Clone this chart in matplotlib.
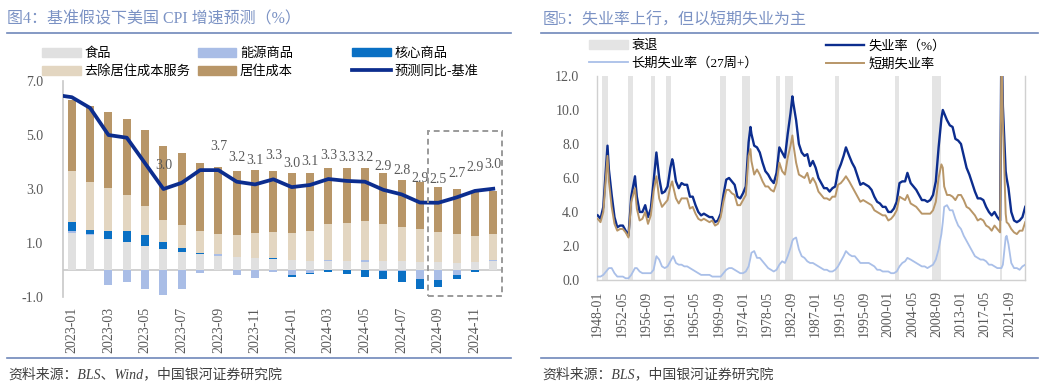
import numpy as np
import matplotlib
matplotlib.use("Agg")
import matplotlib.pyplot as plt
from matplotlib.patches import Patch, Rectangle
from matplotlib.lines import Line2D

plt.rcParams['font.family'] = ['Liberation Serif', 'Noto Sans CJK SC', 'DejaVu Sans']
plt.rcParams['axes.unicode_minus'] = False

# ---------------- left chart data (CPI contributions, %) ----------------
cpi_months = ["2023-01", "2023-02", "2023-03", "2023-04", "2023-05", "2023-06",
              "2023-07", "2023-08", "2023-09", "2023-10", "2023-11", "2023-12",
              "2024-01", "2024-02", "2024-03", "2024-04", "2024-05", "2024-06",
              "2024-07", "2024-08", "2024-09", "2024-10", "2024-11", "2024-12"]
food = [1.38, 1.28, 1.15, 1.02, 0.90, 0.78, 0.67, 0.59, 0.52, 0.47, 0.43, 0.40,
        0.37, 0.35, 0.32, 0.32, 0.30, 0.32, 0.32, 0.30, 0.30, 0.27, 0.30, 0.32]
energy = [0.07, 0.04, -0.56, -0.43, -0.72, -0.93, -0.72, -0.12, 0.07, -0.20, -0.31, -0.06,
          -0.20, -0.12, 0.04, 0.03, 0.06, -0.04, -0.02, -0.35, -0.37, -0.19, 0.00, 0.05]
core_goods = [0.32, 0.15, 0.30, 0.42, 0.40, 0.26, 0.16, 0.04, 0.00, 0.02, 0.02, 0.03,
              -0.05, -0.04, -0.06, -0.16, -0.25, -0.31, -0.41, -0.37, -0.25, -0.16, -0.06, 0.00]
services_ex_shelter = [1.90, 1.80, 1.57, 1.33, 1.06, 0.80, 0.82, 0.81, 0.73, 0.79, 0.93, 0.98,
                       1.01, 1.11, 1.34, 1.40, 1.45, 1.38, 1.28, 1.21, 1.12, 1.05, 0.97, 0.96]
shelter = [2.62, 2.80, 2.83, 2.81, 2.83, 2.75, 2.67, 2.52, 2.51, 2.37, 2.32, 2.26,
           2.22, 2.12, 2.09, 2.04, 1.96, 1.88, 1.73, 1.76, 1.67, 1.67, 1.65, 1.60]
# headline yoy, first value is 2022-12
cpi_yoy = [6.5, 6.4, 6.0, 5.0, 4.9, 3.95, 3.0, 3.23, 3.7, 3.7, 3.27, 3.17, 3.36,
           3.07, 3.15, 3.37, 3.30, 3.27, 2.97, 2.80, 2.50, 2.49, 2.69, 2.93, 3.01]
cpi_labels = [None, None, None, None, None, "3.0", None, None, "3.7", "3.2", "3.1", "3.3",
              "3.0", "3.1", "3.3", "3.3", "3.2", "2.9", "2.8", "2.9", "2.5", "2.7", "2.9", "3.0"]

# ---------------- right chart data (unemployment, %) ----------------
ur_dates = ["1948-01", "1948-07", "1949-01", "1949-07", "1949-10",
            "1950-01", "1950-07", "1951-01", "1951-07", "1952-01", "1952-07", "1953-01", "1953-07",
            "1954-01", "1954-07", "1954-09", "1955-01", "1955-07", "1956-01", "1956-07", "1957-01",
            "1957-07", "1958-01", "1958-07", "1959-01", "1959-07",
            "1960-01", "1960-07", "1961-01", "1961-05", "1961-07", "1962-01", "1962-07", "1963-01",
            "1963-07", "1964-01", "1964-07", "1965-01", "1965-07", "1966-01", "1966-07", "1967-01",
            "1967-07", "1968-01", "1968-07", "1969-01", "1969-07",
            "1970-01", "1970-07", "1971-01", "1971-07", "1972-01", "1972-07", "1973-01", "1973-07",
            "1974-01", "1974-07", "1975-01", "1975-05", "1975-07", "1976-01", "1976-07", "1977-01",
            "1977-07", "1978-01", "1978-07", "1979-01", "1979-07",
            "1980-01", "1980-07", "1981-01", "1981-07", "1982-01", "1982-07", "1982-11", "1983-01",
            "1983-07", "1984-01", "1984-07", "1985-01", "1985-07", "1986-01", "1986-07", "1987-01",
            "1987-07", "1988-01", "1988-07", "1989-01", "1989-07",
            "1990-01", "1990-07", "1991-01", "1991-07", "1992-01", "1992-06", "1993-01", "1993-07",
            "1994-01", "1994-07", "1995-01", "1995-07", "1996-01", "1996-07", "1997-01", "1997-07",
            "1998-01", "1998-07", "1999-01", "1999-07",
            "2000-01", "2000-07", "2001-01", "2001-07", "2002-01", "2002-07", "2003-01", "2003-06",
            "2004-01", "2004-07", "2005-01", "2005-07", "2006-01", "2006-07", "2007-01", "2007-07",
            "2008-01", "2008-07", "2009-01", "2009-07", "2009-10",
            "2010-01", "2010-07", "2011-01", "2011-07", "2012-01", "2012-07", "2013-01", "2013-07",
            "2014-01", "2014-07", "2015-01", "2015-07", "2016-01", "2016-07", "2017-01", "2017-07",
            "2018-01", "2018-07", "2019-01", "2019-07",
            "2020-01", "2020-04", "2020-07", "2021-01", "2021-03", "2021-07", "2022-01", "2022-07",
            "2023-01", "2023-07", "2024-01", "2024-07"]
unemp = [3.8, 3.6, 4.3, 6.7, 7.9,
         6.5, 5.0, 3.7, 3.1, 3.2, 3.2, 2.9, 2.6, 4.9, 5.8, 6.1, 4.9, 4.0, 4.0, 4.4, 3.7,
         4.2, 5.8, 7.5, 6.0, 5.1,
         5.2, 5.5, 6.6, 7.1, 6.9, 5.8, 5.4, 5.7, 5.6, 5.6, 4.9, 4.9, 4.4, 4.0, 3.8, 3.9,
         3.8, 3.7, 3.7, 3.4, 3.5,
         3.9, 5.0, 5.9, 6.0, 5.8, 5.6, 4.9, 4.8, 5.1, 5.5, 8.1, 9.0, 8.6, 7.9, 7.8, 7.5,
         6.9, 6.4, 6.2, 5.9, 5.7,
         6.3, 7.8, 7.5, 7.2, 8.6, 9.8, 10.8, 10.4, 9.4, 8.0, 7.5, 7.3, 7.4, 6.7, 7.0, 6.6,
         6.0, 5.7, 5.4, 5.4, 5.2,
         5.4, 5.5, 6.4, 6.8, 7.3, 7.8, 7.3, 6.9, 6.6, 6.1, 5.6, 5.7, 5.6, 5.5, 5.3, 4.9,
         4.6, 4.5, 4.3, 4.3,
         4.0, 4.0, 4.2, 4.6, 5.7, 5.8, 5.8, 6.3, 5.7, 5.5, 5.3, 5.0, 4.7, 4.7, 4.6, 4.7,
         5.0, 5.8, 7.8, 9.5, 10.0,
         9.8, 9.4, 9.1, 9.0, 8.3, 8.2, 8.0, 7.3, 6.6, 6.2, 5.7, 5.2, 4.8, 4.8, 4.7, 4.3,
         4.0, 3.8, 4.0, 3.7,
         3.5, 14.8, 10.2, 6.4, 6.0, 5.4, 4.0, 3.5, 3.4, 3.5, 3.7, 4.3]
long_term = [0.2, 0.2, 0.3, 0.5, 0.6,
             0.7, 0.7, 0.4, 0.2, 0.2, 0.2, 0.1, 0.1, 0.3, 0.6, 0.7, 0.7, 0.5, 0.4, 0.4, 0.4,
             0.4, 0.6, 1.4, 1.2, 0.8,
             0.7, 0.8, 1.1, 1.3, 1.4, 1.0, 0.9, 0.9, 0.8, 0.8, 0.7, 0.6, 0.5, 0.4, 0.3, 0.3,
             0.3, 0.3, 0.2, 0.2, 0.2,
             0.2, 0.4, 0.6, 0.7, 0.7, 0.6, 0.5, 0.4, 0.4, 0.5, 0.8, 1.3, 1.6, 1.7, 1.3, 1.3,
             1.1, 0.9, 0.7, 0.6, 0.5,
             0.6, 0.9, 1.1, 1.0, 1.4, 1.9, 2.3, 2.4, 2.5, 1.8, 1.4, 1.3, 1.1, 1.0, 1.0, 0.9,
             0.8, 0.7, 0.6, 0.6, 0.5,
             0.5, 0.6, 0.8, 1.1, 1.4, 1.7, 1.5, 1.4, 1.4, 1.2, 1.0, 1.0, 1.0, 1.0, 0.9, 0.8,
             0.6, 0.6, 0.5, 0.5,
             0.5, 0.4, 0.4, 0.5, 0.8, 1.0, 1.1, 1.3, 1.2, 1.1, 1.0, 0.9, 0.8, 0.8, 0.7, 0.8,
             0.9, 1.2, 1.8, 2.7, 3.4,
             4.3, 4.4, 4.1, 4.1, 3.6, 3.2, 3.0, 2.6, 2.3, 2.0, 1.7, 1.4, 1.3, 1.2, 1.2, 1.1,
             0.9, 0.9, 0.8, 0.7,
             0.7, 0.7, 0.9, 2.5, 2.6, 2.1, 1.0, 0.7, 0.7, 0.6, 0.8, 0.9]
short_term = [3.6, 3.4, 4.0, 6.2, 7.3,
              5.8, 4.3, 3.3, 2.9, 3.0, 3.0, 2.8, 2.5, 4.6, 5.2, 5.4, 4.2, 3.5, 3.6, 4.0, 3.3,
              3.8, 5.2, 6.1, 4.8, 4.3,
              4.5, 4.7, 5.5, 5.8, 5.5, 4.8, 4.5, 4.8, 4.8, 4.8, 4.2, 4.3, 3.9, 3.6, 3.5, 3.6,
              3.5, 3.4, 3.5, 3.2, 3.3,
              3.7, 4.6, 5.3, 5.3, 5.1, 5.0, 4.4, 4.4, 4.7, 5.0, 7.3, 7.7, 7.0, 6.2, 6.5, 6.2,
              5.8, 5.5, 5.5, 5.3, 5.2,
              5.7, 6.9, 6.4, 6.2, 7.2, 7.9, 8.5, 8.0, 6.9, 6.2, 6.1, 6.0, 6.3, 5.7, 6.0, 5.7,
              5.2, 5.0, 4.8, 4.8, 4.7,
              4.9, 4.9, 5.6, 5.7, 5.9, 6.1, 5.8, 5.5, 5.2, 4.9, 4.6, 4.7, 4.6, 4.5, 4.4, 4.1,
              4.0, 3.9, 3.8, 3.8,
              3.5, 3.6, 3.8, 4.1, 4.9, 4.8, 4.7, 5.0, 4.5, 4.4, 4.3, 4.1, 3.9, 3.9, 3.9, 3.9,
              4.1, 4.6, 6.0, 6.8, 6.6,
              5.5, 5.0, 5.0, 4.9, 4.7, 5.0, 5.0, 4.7, 4.3, 4.2, 4.0, 3.8, 3.5, 3.6, 3.5, 3.2,
              3.1, 2.9, 3.2, 3.0,
              2.8, 14.1, 9.3, 3.9, 3.4, 3.3, 3.0, 2.8, 2.7, 2.9, 2.9, 3.4]
recessions = [("1948-11", "1949-10"), ("1953-07", "1954-05"), ("1957-08", "1958-04"),
              ("1960-04", "1961-02"), ("1969-12", "1970-11"), ("1973-11", "1975-03"),
              ("1980-01", "1980-07"), ("1981-07", "1982-11"), ("1990-07", "1991-03"),
              ("2001-03", "2001-11"), ("2007-12", "2009-06"), ("2020-02", "2020-04")]
ur_ticks = ["1948-01", "1952-05", "1956-09", "1961-01", "1965-05", "1969-09", "1974-01",
            "1978-05", "1982-09", "1987-01", "1991-05", "1995-09", "2000-01", "2004-05",
            "2008-09", "2013-01", "2017-05", "2021-09"]
ur_last = "2024-07"

# colours
C_FOOD, C_ENERGY, C_CORE = "#e0e0e0", "#a9bde6", "#0a70c4"
C_SVC, C_SHELTER, C_LINE = "#e3d6c1", "#b89668", "#0c2d8e"
C_REC, C_LT, C_ST = "#e4e4e4", "#a9bfe8", "#b89668"
C_TITLE, C_RULE, C_TICK = "#7b92c4", "#6f87ba", "#595959"


def midx(s):
    y, m = s.split("-")
    return (int(y) - 1948) * 12 + int(m) - 1


fig = plt.figure(figsize=(10.62, 3.88), dpi=100)

# ================= left: CPI =================
ax1 = fig.add_axes([0.0590, 0.2345, 0.4141, 0.5567])
x = np.arange(len(cpi_months))
pos = np.zeros(len(x))
neg = np.zeros(len(x))
for vals, col in [(food, C_FOOD), (energy, C_ENERGY), (core_goods, C_CORE),
                  (services_ex_shelter, C_SVC), (shelter, C_SHELTER)]:
    v = np.array(vals)
    base = np.where(v >= 0, pos, neg)
    ax1.bar(x, v, 0.44, bottom=base, color=col, lw=0, zorder=2)
    pos = pos + np.where(v >= 0, v, 0)
    neg = neg + np.where(v < 0, v, 0)

xl = np.arange(-1, len(cpi_months))
ax1.plot(xl, cpi_yoy, color=C_LINE, lw=2.7, zorder=4, solid_joinstyle="round")
for i, lab in enumerate(cpi_labels):
    if lab:
        ax1.text(i, cpi_yoy[i + 1] + 0.88, lab, ha="center", va="center",
                 fontsize=10, color=C_TICK, zorder=5)

ax1.axhline(0, color="#c8c8c8", lw=1.2, zorder=1)
ax1.add_patch(Rectangle((19.45, -0.95), 4.03, 6.1, fill=False, ls=(0, (3, 2)),
                        ec="#9a9a9a", lw=1.4, zorder=6, clip_on=False))
ax1.set_xlim(-0.5, len(cpi_months) - 0.5)
ax1.set_ylim(-1, 7)
ax1.set_yticks([-1, 1, 3, 5, 7])
ax1.set_yticklabels(["%.1f" % t for t in [-1, 1, 3, 5, 7]])
ax1.set_xticks(x[::2])
ax1.set_xticklabels(cpi_months[::2], rotation=90)
ax1.tick_params(axis="y", length=0, pad=14, labelsize=10, labelcolor=C_TICK)
ax1.tick_params(axis="x", length=0, pad=7, labelsize=10, labelcolor=C_TICK)
for s in ["top", "right", "bottom"]:
    ax1.spines[s].set_visible(False)
ax1.spines["left"].set_color("#c8c8c8")
ax1.spines["left"].set_linewidth(1.2)

# ================= right: unemployment =================
ax2 = fig.add_axes([0.5626, 0.2784, 0.4030, 0.5258])
for s, e in recessions:
    ax2.axvspan(midx(s) - 0.5, midx(e) + 0.5, color=C_REC, lw=0, zorder=1)
xu = [midx(d) for d in ur_dates]
ax2.plot(xu, unemp, color=C_LINE, lw=1.7, zorder=3)
ax2.plot(xu, long_term, color=C_LT, lw=1.3, zorder=3)
ax2.plot(xu, short_term, color=C_ST, lw=1.4, zorder=4)
ax2.set_xlim(-0.5, midx(ur_last) + 0.5)
ax2.set_ylim(0, 12)
ax2.set_yticks(range(0, 13, 2))
ax2.set_yticklabels(["%.1f" % t for t in range(0, 13, 2)])
ax2.set_xticks([midx(t) for t in ur_ticks])
ax2.set_xticklabels(ur_ticks, rotation=90)
ax2.tick_params(axis="y", length=0, pad=13, labelsize=10, labelcolor=C_TICK)
ax2.tick_params(axis="x", length=0, pad=8, labelsize=10, labelcolor=C_TICK)
ax2.spines["top"].set_visible(False)
for s in ["left", "bottom", "right"]:
    ax2.spines[s].set_color("#d0d0d0")
    ax2.spines[s].set_linewidth(1.0)

# ================= legends =================
leg_kw = dict(loc="upper left", frameon=False, fontsize=9.5, handlelength=2.9,
              handleheight=0.65, handletextpad=0.3, labelspacing=0.4,
              borderpad=0, borderaxespad=0)
cols_left = [
    [Patch(color=C_FOOD, label="食品"), Patch(color=C_SVC, label="去除居住成本服务")],
    [Patch(color=C_ENERGY, label="能源商品"), Patch(color=C_SHELTER, label="居住成本")],
    [Patch(color=C_CORE, label="核心商品"),
     Line2D([], [], color=C_LINE, lw=2.7, label="预测同比-基准")],
]
for hx, hs in zip([0.0398, 0.1862, 0.3317], cols_left):
    fig.legend(handles=hs, bbox_to_anchor=(hx, 0.878), **leg_kw)
cols_right = [
    [Patch(color=C_REC, label="衰退"),
     Line2D([], [], color=C_LT, lw=1.3, label="长期失业率（27周+）")],
    [Line2D([], [], color=C_LINE, lw=1.7, label="失业率（%）"),
     Line2D([], [], color=C_ST, lw=1.4, label="短期失业率")],
]
for hx, hs in zip([0.5549, 0.7778], cols_right):
    fig.legend(handles=hs, bbox_to_anchor=(hx, 0.897), **leg_kw)

# ================= titles, rules, sources =================
fig.text(0.0069, 0.950, "图4：基准假设下美国 CPI 增速预测（%）", fontsize=11.5,
         color=C_TITLE, va="center")
fig.text(0.5110, 0.947, "图5：失业率上行，但以短期失业为主", fontsize=11.5,
         color=C_TITLE, va="center")
for x0, x1 in [(0.0066, 0.4812), (0.5094, 0.9774)]:
    fig.add_artist(Line2D([x0, x1], [0.916, 0.916], color=C_RULE, lw=1.2,
                          transform=fig.transFigure))
    fig.add_artist(Line2D([x0, x1], [0.078, 0.078], color=C_RULE, lw=1.2,
                          transform=fig.transFigure))
fig.text(0.0078, 0.035, "资料来源：BLS、Wind，中国银河证券研究院", fontsize=10,
         color="#404040", style="italic", va="center")
fig.text(0.5110, 0.035, "资料来源：BLS，中国银河证券研究院", fontsize=10,
         color="#404040", style="italic", va="center")

fig.savefig("out.png", dpi=100)
